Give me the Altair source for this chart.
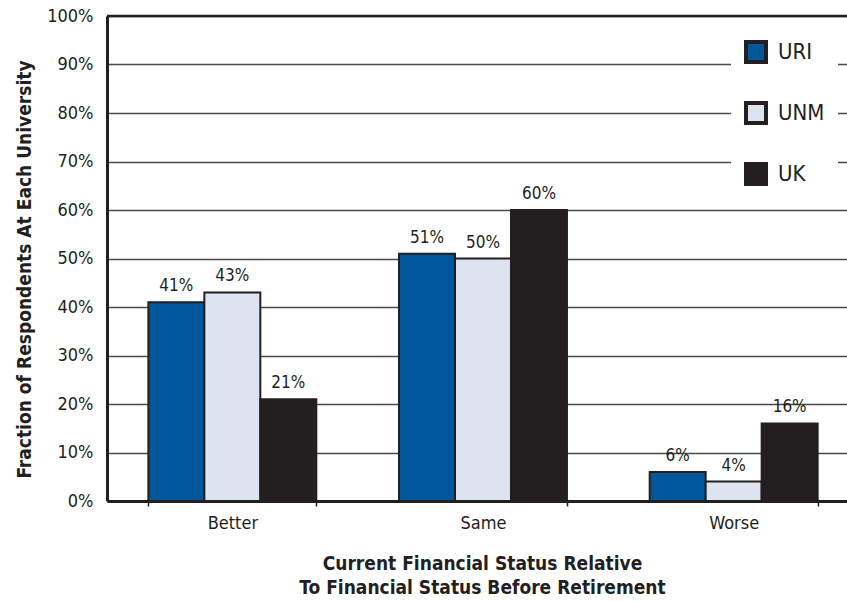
import altair as alt
import pandas as pd

categories = ["Better", "Same", "Worse"]
universities = ["URI", "UNM", "UK"]
uri_values = [0.41, 0.51, 0.06]
unm_values = [0.43, 0.50, 0.04]
uk_values = [0.21, 0.60, 0.16]
colors = ["#00579b", "#dde3ef", "#231f20"]
y_ticks = [0, 0.1, 0.2, 0.3, 0.4, 0.5, 0.6, 0.7, 0.8, 0.9, 1.0]

rows = []
for uni, vals in zip(universities, [uri_values, unm_values, uk_values]):
    for cat, v in zip(categories, vals):
        rows.append({"status": cat, "university": uni, "value": v,
                     "label": f"{round(v * 100)}%"})
df = pd.DataFrame(rows)

FONT = "'Liberation Sans Narrow', 'DejaVu Sans Condensed', 'Roboto', sans-serif"
DARK = "#231f20"

xscale = alt.Scale(domain=categories, range=[0, 752], paddingInner=0.33, paddingOuter=0.165)
yscale = alt.Scale(domain=[0, 1], nice=False)

base = alt.Chart(df)

bars = base.mark_bar(stroke=DARK, strokeWidth=2).encode(
    x=alt.X("status:N", scale=xscale, sort=categories,
            axis=alt.Axis(title=["Current Financial Status Relative",
                                 "To Financial Status Before Retirement"],
                          labelAngle=0, tickBand="extent", tickSize=5,
                          tickColor=DARK, tickWidth=1.5,
                          labelPadding=8, labelFontSize=18, labelFont=FONT,
                          labelColor=DARK, domainColor=DARK, domainWidth=3,
                          titleFont=FONT, titleFontSize=19, titleFontWeight="bold",
                          titleColor=DARK, titleLineHeight=24,
                          titleBaseline="alphabetic", titleY=68, titleX=375)),
    xOffset=alt.XOffset("university:N", sort=universities,
                        scale=alt.Scale(paddingInner=0, paddingOuter=0)),
    y=alt.Y("value:Q", scale=yscale,
            axis=alt.Axis(values=y_ticks, format=".0%", tickSize=0,
                          title="Fraction of Respondents At Each University",
                          labelPadding=14, labelFontSize=18, labelFont=FONT,
                          labelColor=DARK, domainColor=DARK, domainWidth=3,
                          grid=True, gridColor="#4a4a4a", gridWidth=1.3,
                          titleFont=FONT, titleFontSize=19, titleFontWeight="bold",
                          titleColor=DARK, titleX=-83, titleY=253,
                          titleAngle=-90, titleBaseline="middle")),
    color=alt.Color("university:N", sort=universities,
                    scale=alt.Scale(domain=universities, range=colors),
                    legend=alt.Legend(title=None, orient="none", legendX=624, legendY=11,
                                      symbolType="square", symbolSize=400,
                                      symbolStrokeColor=DARK, symbolStrokeWidth=4,
                                      labelFontSize=22, labelFont=FONT, labelColor=DARK,
                                      labelOffset=10, rowPadding=25,
                                      fillColor="white", padding=13)),
)

labels = base.mark_text(dy=-11, baseline="alphabetic", fontSize=17, font=FONT,
                        color=DARK).encode(
    x=alt.X("status:N", scale=xscale, sort=categories),
    xOffset=alt.XOffset("university:N", sort=universities),
    y=alt.Y("value:Q", scale=yscale),
    text="label:N",
)

top_line = alt.Chart(pd.DataFrame({"v": [1.0]})).mark_rule(
    color=DARK, strokeWidth=2.5).encode(y=alt.Y("v:Q", scale=yscale))

chart = alt.layer(top_line, bars, labels).properties(
    width=740, height=485,
    autosize=alt.AutoSizeParams(type="none"),
    padding={"left": 107, "top": 16, "right": 0, "bottom": 101},
).configure_view(stroke=None).configure(background="white")

chart.save("out.html", embed_options={"renderer": "svg", "actions": False})
